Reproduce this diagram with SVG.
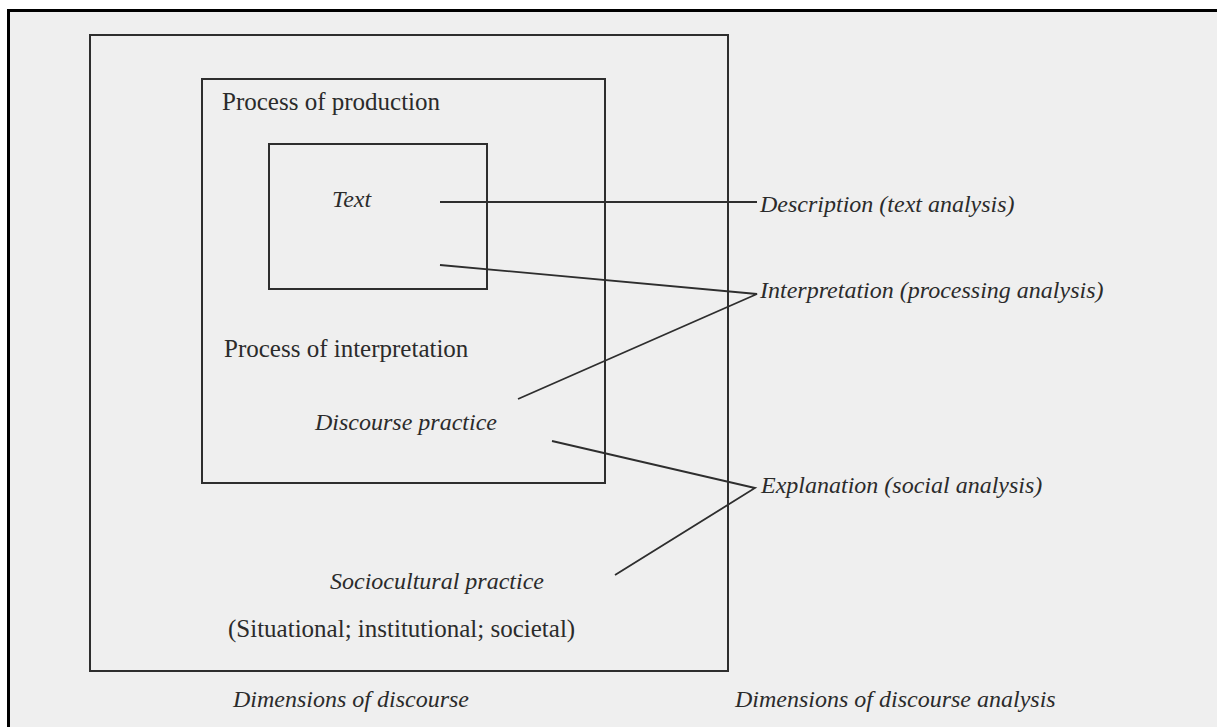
<svg xmlns="http://www.w3.org/2000/svg" width="1217" height="727" viewBox="0 0 1217 727">
  <style>
    .box { fill: none; stroke: #2e2e2e; stroke-width: 2; }
    .conn { fill: none; stroke: #2e2e2e; stroke-width: 1.8; stroke-linejoin: miter; }
    .t { font-family: "Liberation Serif", "Times New Roman", serif; font-size: 25px; fill: #2b2b2b; }
    .i { font-style: italic; font-size: 24px; }
  </style>
  <rect x="0" y="0" width="1217" height="727" fill="#ffffff"/>
  <rect x="8" y="10" width="1209" height="717" fill="#efefef"/>
  <path d="M8.5 727 V10.5 H1217" fill="none" stroke="#000" stroke-width="3"/>

  <g id="outer-box">
    <rect class="box" x="90" y="35" width="638" height="636"/>
    <text class="t" x="228" y="637">(Situational; institutional; societal)</text>
    <text class="t i" x="330" y="589">Sociocultural practice</text>
  </g>
  <g id="middle-box">
    <rect class="box" x="202" y="79" width="403" height="404"/>
    <text class="t" x="222" y="110">Process of production</text>
    <text class="t" x="224" y="357">Process of interpretation</text>
    <text class="t i" x="315" y="430">Discourse practice</text>
  </g>
  <g id="inner-box">
    <rect class="box" x="269" y="144" width="218" height="145"/>
    <text class="t i" x="332" y="207">Text</text>
  </g>

  <g id="connectors">
    <path class="conn" d="M440 202 H757"/>
    <path class="conn" d="M440 265 L757 294 L518 399"/>
    <path class="conn" d="M552 441 L755 488 L615 575"/>
  </g>

  <g id="label-description">
    <text class="t i" x="760" y="212">Description (text analysis)</text>
  </g>
  <g id="label-interpretation">
    <text class="t i" x="760" y="298">Interpretation (processing analysis)</text>
  </g>
  <g id="label-explanation">
    <text class="t i" x="761" y="493">Explanation (social analysis)</text>
  </g>
  <g id="captions">
    <text class="t i" x="233" y="707">Dimensions of discourse</text>
    <text class="t i" x="735" y="707">Dimensions of discourse analysis</text>
  </g>
</svg>
